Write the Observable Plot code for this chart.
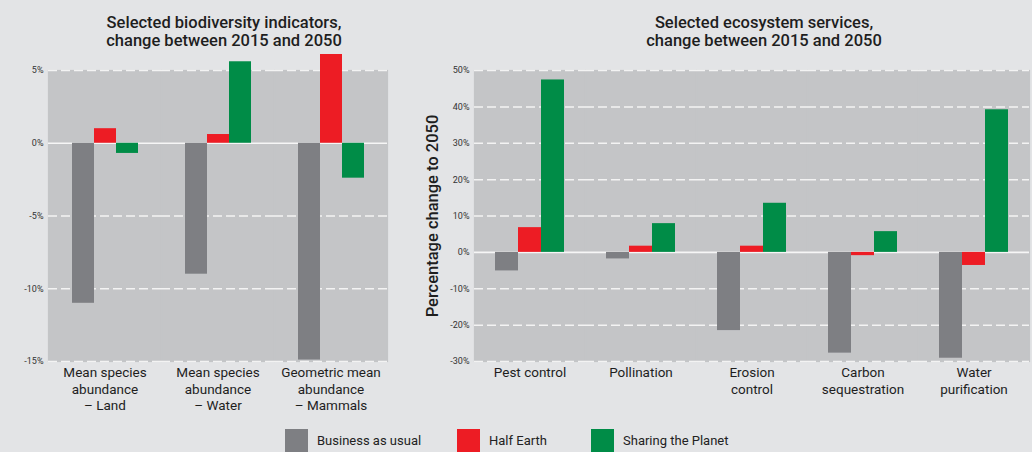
<!DOCTYPE html>
<html>
<head>
<meta charset="utf-8">
<script src="https://cdn.jsdelivr.net/npm/d3@7"></script>
<script src="https://cdn.jsdelivr.net/npm/@observablehq/plot@0.6"></script>
<style>
  html, body { margin: 0; padding: 0; }
  body { width: 1032px; height: 452px; background: #e3e4e6; position: relative; overflow: hidden;
         font-family: Roboto, "Noto Sans", sans-serif; color: #222; }
  .title { position: absolute; top: 14px; width: 360px; text-align: center; font-size: 16.5px;
           font-weight: 500; line-height: 18px; white-space: pre-line; color: #1e1e1e; }
  .ylabel { position: absolute; left: 432px; top: 216px; transform: translate(-50%, -50%) rotate(-90deg);
            font-size: 16.5px; font-weight: 500; white-space: nowrap; color: #1e1e1e; }
  .panel { position: absolute; top: 0; }
  #legend { position: absolute; left: 285px; top: 429px; display: flex; }
  .item { display: flex; align-items: flex-start; }
  .sw { width: 23px; height: 23px; margin-right: 9px; }
  .lab { font-size: 13px; line-height: 16px; padding-top: 4px; }
</style>
</head>
<body>
<div id="root"></div>
<script>
// ---- data ----
const scenarios = ["Business as usual", "Half Earth", "Sharing the Planet"];
const scenarioColors = ["#7e7f83", "#ed1c24", "#008c47"];

const biodivTitle = "Selected biodiversity indicators,\nchange between 2015 and 2050";
const biodivCategories = ["Mean species\nabundance\n– Land", "Mean species\nabundance\n– Water", "Geometric mean\nabundance\n– Mammals"];
const biodivBAU = [-11.0, -9.0, -14.9];
const biodivHalf = [1.0, 0.6, 6.1];
const biodivShare = [-0.7, 5.6, -2.4];
const biodivTicks = [5, 0, -5, -10, -15];

const ecoTitle = "Selected ecosystem services,\nchange between 2015 and 2050";
const ecoYLabel = "Percentage change to 2050";
const ecoCategories = ["Pest control", "Pollination", "Erosion\ncontrol", "Carbon\nsequestration", "Water\npurification"];
const ecoBAU = [-5.1, -1.8, -21.5, -27.7, -29.1];
const ecoHalf = [6.8, 1.7, 1.7, -0.9, -3.6];
const ecoShare = [47.4, 7.9, 13.5, 5.7, 39.2];
const ecoTicks = [50, 40, 30, 20, 10, 0, -10, -20, -30];

// ---- build ----
const panelFill = "#c4c5c7";

function rowsOf(cats, series) {
  const rows = [];
  cats.forEach((c, i) => series.forEach((s, j) => rows.push({cat: c, scenario: scenarios[j], value: s[i]})));
  return rows;
}

function panel({cats, rows, ticks, width, height, marginLeft, marginRight, paddingOuter}) {
  return Plot.plot({
    width, height, marginLeft, marginRight, marginTop: 70, marginBottom: 59,
    style: {background: "transparent", fontFamily: "Roboto, 'Noto Sans', sans-serif", color: "#333", overflow: "visible"},
    fx: {domain: cats, padding: 0, axis: null},
    x: {domain: scenarios, paddingInner: 0, paddingOuter, axis: null},
    y: {domain: [d3.min(ticks), d3.max(ticks)], axis: null},
    color: {domain: scenarios, range: scenarioColors},
    marks: [
      Plot.frame({fill: panelFill, stroke: panelFill, strokeWidth: 1.2}),
      Plot.ruleY(ticks.filter(t => t !== 0), {stroke: "#f3f3f3", strokeWidth: 1.5, strokeDasharray: "9,4"}),
      Plot.ruleY([0], {stroke: "#f6f6f6", strokeWidth: 1.6}),
      Plot.barY(rows, {fx: "cat", x: "scenario", y: "value", fill: "scenario"}),
      Plot.axisY({ticks, tickSize: 0, tickPadding: 5, tickFormat: d => d + "%", fontSize: 9, label: null, fill: "#333"}),
      Plot.text(cats, {fx: d => d, text: d => d, frameAnchor: "bottom", lineAnchor: "top", dy: 4,
                       fontSize: 13.5, lineHeight: 1.22, fill: "#1e1e1e"})
    ]
  });
}

const root = document.getElementById("root");

const left = panel({cats: biodivCategories, rows: rowsOf(biodivCategories, [biodivBAU, biodivHalf, biodivShare]),
  ticks: biodivTicks, width: 410, height: 420, marginLeft: 47, marginRight: 23, paddingOuter: 1});
left.classList.add("panel"); left.style.left = "0px";
root.appendChild(left);

const right = panel({cats: ecoCategories, rows: rowsOf(ecoCategories, [ecoBAU, ecoHalf, ecoShare]),
  ticks: ecoTicks, width: 632, height: 420, marginLeft: 72, marginRight: 2, paddingOuter: 0.9});
right.classList.add("panel"); right.style.left = "400px";
root.appendChild(right);

function addDiv(cls, text, style) {
  const d = document.createElement("div");
  d.className = cls; d.textContent = text; Object.assign(d.style, style || {});
  root.appendChild(d); return d;
}
addDiv("title", biodivTitle, {left: (224 - 180) + "px"});
addDiv("title", ecoTitle, {left: (764 - 180) + "px"});
addDiv("ylabel", ecoYLabel);

const legend = document.createElement("div");
legend.id = "legend";
const itemWidths = [172, 134, 160];
scenarios.forEach((s, i) => {
  const it = document.createElement("div");
  it.className = "item"; it.style.width = itemWidths[i] + "px";
  const sw = document.createElement("div"); sw.className = "sw"; sw.style.background = scenarioColors[i];
  const lb = document.createElement("div"); lb.className = "lab"; lb.textContent = s;
  it.appendChild(sw); it.appendChild(lb); legend.appendChild(it);
});
root.appendChild(legend);
</script>
</body>
</html>
